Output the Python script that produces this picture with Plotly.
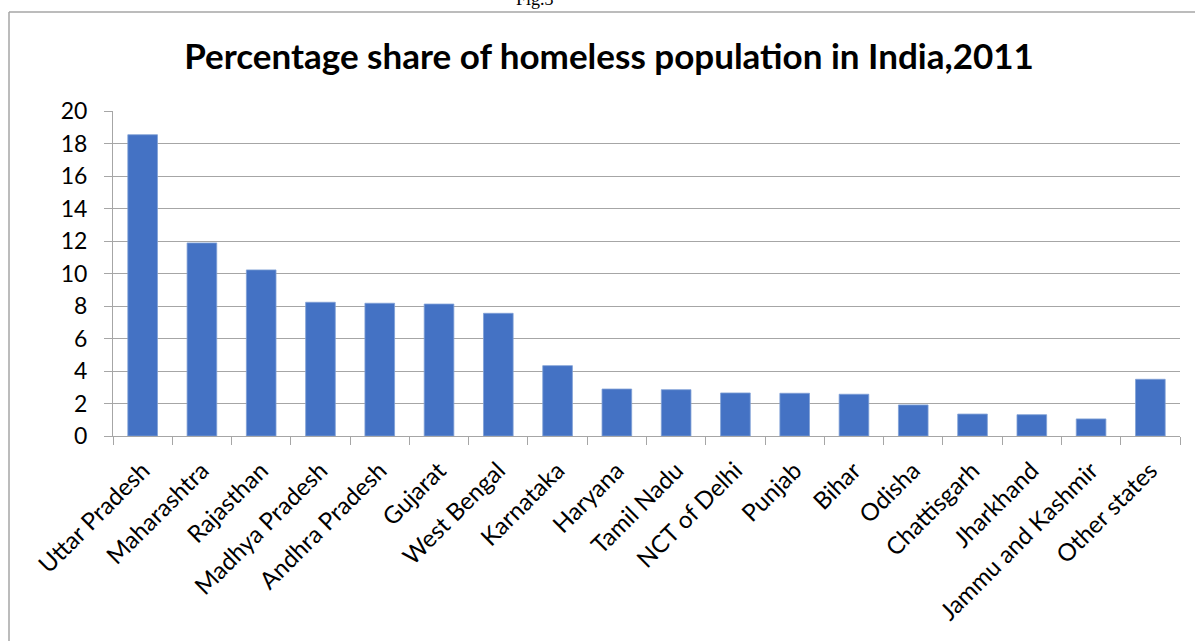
import plotly.graph_objects as go

states = ["Uttar Pradesh", "Maharashtra", "Rajasthan", "Madhya Pradesh", "Andhra Pradesh",
          "Gujarat", "West Bengal", "Karnataka", "Haryana", "Tamil Nadu", "NCT of Delhi",
          "Punjab", "Bihar", "Odisha", "Chattisgarh", "Jharkhand", "Jammu and Kashmir",
          "Other states"]
share = [18.54, 11.88, 10.22, 8.23, 8.17, 8.12, 7.55, 4.33, 2.89, 2.85, 2.65,
         2.63, 2.57, 1.91, 1.35, 1.31, 1.05, 3.49]
y_ticks = [0, 2, 4, 6, 8, 10, 12, 14, 16, 18, 20]

W, H = 1195, 641
L, R, T, B = 113, 15, 111, 205
pw, ph = W - L - R, H - T - B

def px_x(p):
    return (p - L) / pw

def px_y(p):
    return (H - B - p) / ph

fig = go.Figure(go.Bar(
    x=states, y=share,
    marker=dict(color="#4472C4", line=dict(color="#7f9fd6", width=0.8)),
    width=0.5,
))

grid = "#a6a6a6"
fig.update_layout(
    width=W, height=H,
    margin=dict(l=L, r=R, t=T, b=B),
    paper_bgcolor="white", plot_bgcolor="white",
    showlegend=False,
    font=dict(family="Lato", color="#000000"),
    xaxis=dict(
        type="category", showgrid=False, showline=True, linecolor=grid, linewidth=1,
        ticks="outside", tickson="boundaries", ticklen=8, tickcolor=grid,
        tickangle=-45, tickfont=dict(size=24, family="Lato"), ticklabelstandoff=10,
        range=[-0.5, len(states) - 0.5],
    ),
    yaxis=dict(
        range=[0, 20], tickvals=y_ticks, showgrid=True, gridcolor=grid, gridwidth=1,
        showline=True, linecolor=grid, linewidth=1, ticks="outside", ticklen=8,
        tickcolor=grid, tickfont=dict(size=23, family="Lato"), ticklabelstandoff=12,
        zeroline=False,
    ),
    title=dict(
        text="<b>Percentage share of homeless population in India,2011</b>",
        x=px_x(609), xref="paper", xanchor="center",
        y=1 - 57 / H, yanchor="middle",
        font=dict(size=35, family="Lato", color="#000000"),
    ),
)

# outer chart border (left and top edges visible)
bx, by = px_x(9), px_y(12)
fig.add_shape(type="line", xref="paper", yref="paper", x0=bx, x1=bx, y0=by, y1=-1,
              line=dict(color="#a6a6a6", width=1.5))
fig.add_shape(type="line", xref="paper", yref="paper", x0=bx, x1=1.2, y0=by, y1=by,
              line=dict(color="#a6a6a6", width=1.5))

# cropped figure caption at the very top
fig.add_annotation(text="Fig.3", xref="paper", yref="paper", x=px_x(535), y=px_y(11),
                   xanchor="center", yanchor="bottom", showarrow=False,
                   font=dict(family="Liberation Serif", size=18, color="#000000"))

fig.write_html("out.html")
